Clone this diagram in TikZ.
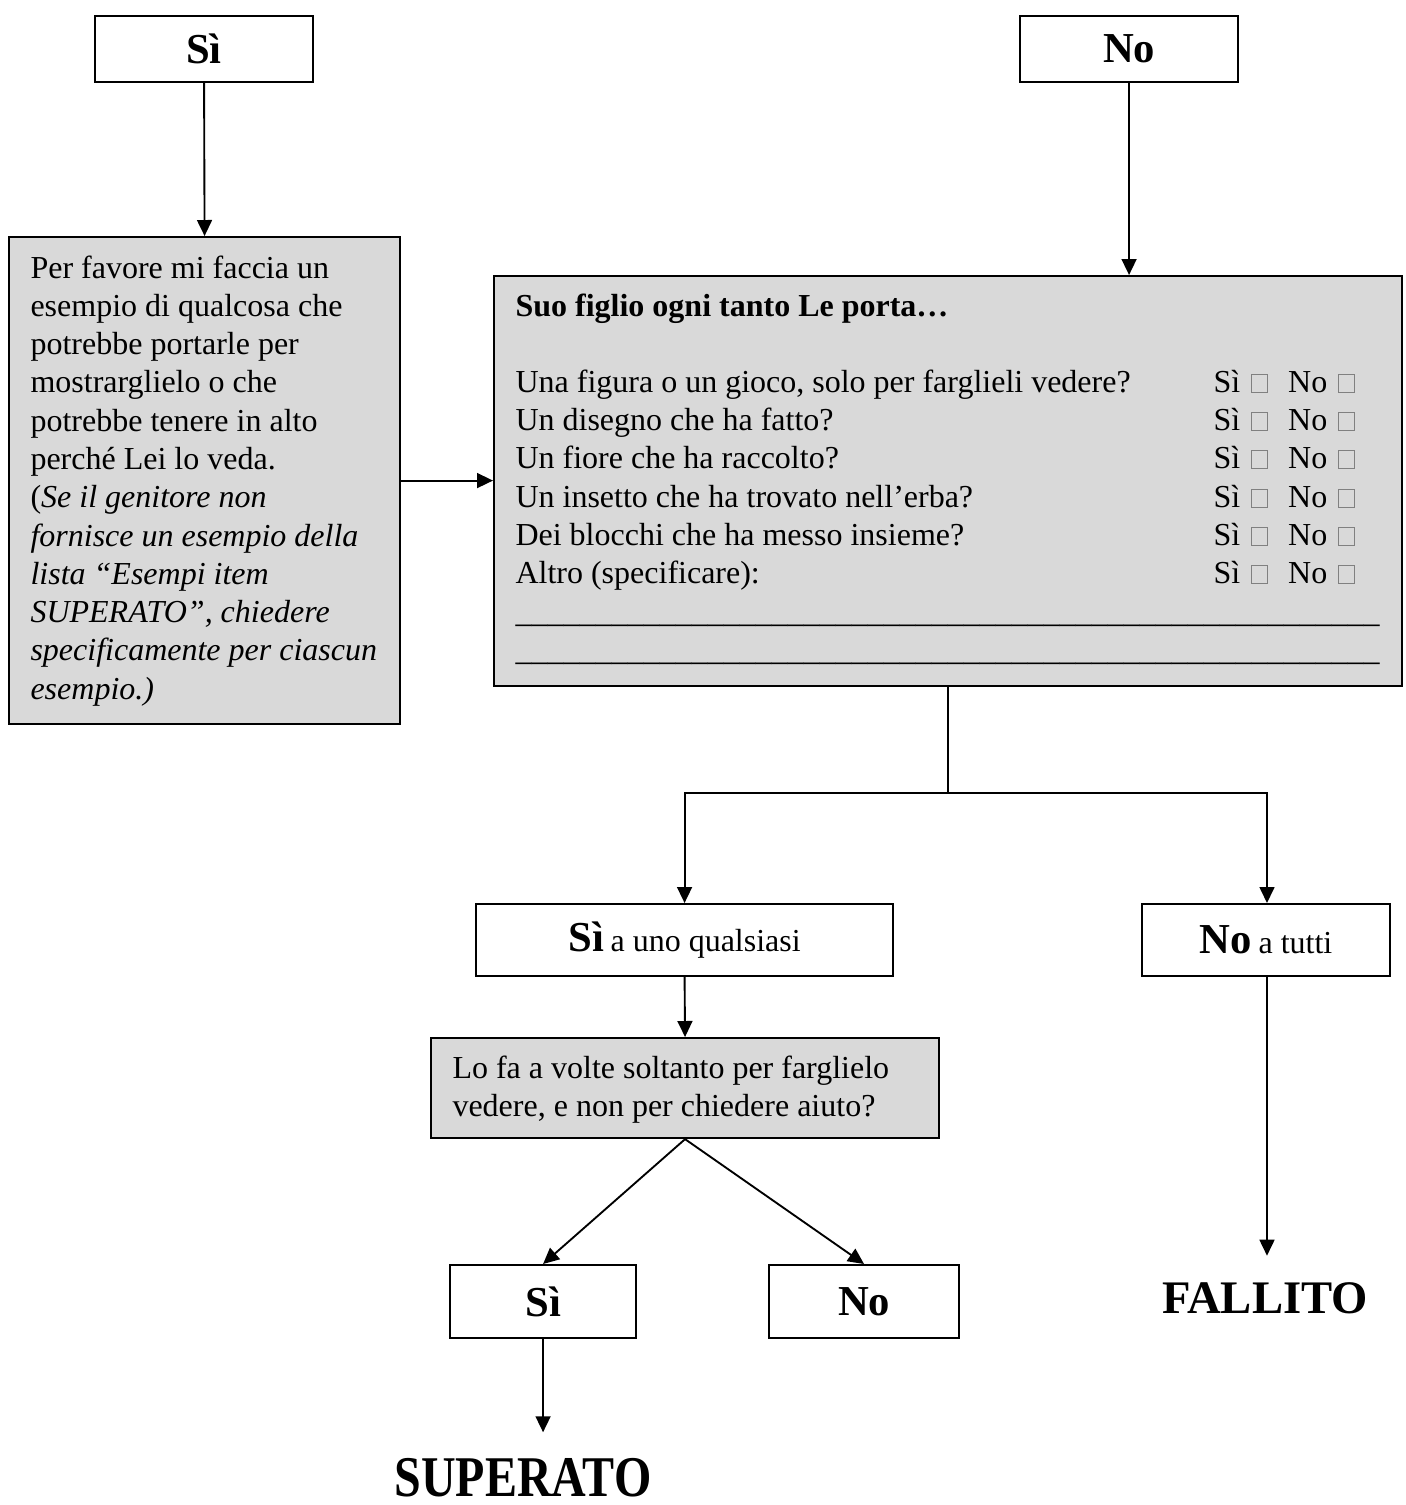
\documentclass[tikz,border=0pt]{standalone}
\usepackage{fontspec}
\setmainfont{Liberation Serif}
\usepackage{graphicx}
\usetikzlibrary{arrows.meta}

\definecolor{boxfill}{HTML}{D9D9D9}
\definecolor{tickgray}{HTML}{808080}

% one drawing unit = 0.375pt
\newcommand\pxu{0.375pt}
% empty answer box
\newcommand\chk{\textcolor{tickgray}{\setlength{\fboxsep}{0pt}\setlength{\fboxrule}{0.4pt}\fbox{\rule{0pt}{6.3pt}\hspace{5.6pt}}}}
\newcommand\sino{Sì\hspace{4.1pt}\chk\hspace{7.5pt}No\hspace{4.1pt}\chk}
\newcommand\ninescores{\_\_\_\_\_\_\_\_\_}
\newcommand\blankline{\ninescores\ninescores\ninescores\ninescores\ninescores\ninescores}
% natural word spaces inside wrapped nodes
\newcommand\plainspaces{\spaceskip=0pt\xspaceskip=0pt\relax}

\tikzset{
  frame/.style={draw, line width=0.8pt, inner sep=0pt, anchor=north west, align=center},
  grayframe/.style={frame, fill=boxfill},
  arr/.style={-{Triangle[length=6pt,width=5.6pt]}, line width=0.7pt},
  conn/.style={line width=0.7pt},
  txt/.style={inner sep=0pt, anchor=base west, font=\fontsize{12pt}{14.36pt}\selectfont},
  big/.style={font=\bfseries\fontsize{16pt}{19pt}\selectfont},
  result/.style={inner xsep=0pt, anchor=base, font=\bfseries\fontsize{17.5pt}{21pt}\selectfont}
}

\begin{document}
\begin{tikzpicture}[x=0.375pt, y=-0.375pt]
\useasboundingbox (0,0) rectangle (1406,1505);

% top answers
\node[frame, minimum width=218*\pxu, minimum height=66*\pxu, big] (sitop) at (94,15) {Sì};
\node[frame, minimum width=218*\pxu, minimum height=66*\pxu, big] (notop) at (1019,15) {No};

% left prompt box: one paragraph per printed line
\node[grayframe, minimum width=391*\pxu, minimum height=487*\pxu] (lbox) at (8,236) {};
\node[txt, text width=140pt] (ltext) at (30,278)
  {\plainspaces
   Per favore mi faccia un\par
   esempio di qualcosa che\par
   potrebbe portarle per\par
   mostrarglielo o che\par
   potrebbe tenere in alto\par
   perché Lei lo veda.\par
   ({\itshape Se il genitore non\par
   fornisce un esempio della\par
   lista “Esempi item\par
   SUPERATO”, chiedere\par
   specificamente per ciascun\par
   esempio.)}\par};

% right question box
\node[grayframe, minimum width=908*\pxu, minimum height=410*\pxu] (rbox) at (493,275) {};
\node[txt, font=\bfseries\fontsize{12pt}{14.36pt}\selectfont] (title) at (515,316) {Suo figlio ogni tanto Le porta…};
\node[txt] (q1) at (515,392) {Una figura o un gioco, solo per farglieli vedere?};
\node[txt] (q2) at (515,430) {Un disegno che ha fatto?};
\node[txt] (q3) at (515,468) {Un fiore che ha raccolto?};
\node[txt] (q4) at (515,507) {Un insetto che ha trovato nell’erba?};
\node[txt] (q5) at (515,545) {Dei blocchi che ha messo insieme?};
\node[txt] (q6) at (515,583) {Altro (specificare):};
\node[txt] (a1) at (1213,392) {\sino};
\node[txt] (a2) at (1213,430) {\sino};
\node[txt] (a3) at (1213,468) {\sino};
\node[txt] (a4) at (1213,507) {\sino};
\node[txt] (a5) at (1213,545) {\sino};
\node[txt] (a6) at (1213,583) {\sino};
\node[txt] (u1) at (515,622) {\blankline};
\node[txt] (u2) at (515,660) {\blankline};

% outcome boxes
\node[frame, minimum width=417*\pxu, minimum height=72*\pxu] (siuno) at (475,903)
  {{\bfseries\fontsize{16pt}{19pt}\selectfont Sì} {\fontsize{12pt}{14pt}\selectfont a uno qualsiasi}};
\node[frame, minimum width=248*\pxu, minimum height=72*\pxu] (notutti) at (1141,903)
  {{\bfseries\fontsize{16pt}{19pt}\selectfont No} {\fontsize{12pt}{14pt}\selectfont a tutti}};

\node[grayframe, minimum width=508*\pxu, minimum height=100*\pxu] (lofa) at (430,1037) {};
\node[txt, text width=180pt] (lofatext) at (452,1078)
  {\plainspaces Lo fa a volte soltanto per farglielo\par vedere, e non per chiedere aiuto?\par};

\node[frame, minimum width=186*\pxu, minimum height=73*\pxu, big] (sibox) at (449,1264) {Sì};
\node[frame, minimum width=190*\pxu, minimum height=73*\pxu, big] (nobox) at (768,1264) {No};

\node[result, inner ysep=9.4pt, font=\bfseries\fontsize{18pt}{21pt}\selectfont] (superato) at (523,1496) {\scalebox{1}[1.2]{SUPERATO}};
\node[result, inner ysep=9.7pt] (fallito) at (1265,1313) {FALLITO};

% connectors
\draw[arr] (sitop.south) -- (lbox.north);
\draw[arr] (notop.south) -- (notop.south |- rbox.north);
\draw[arr] (lbox.east) -- (lbox.east -| rbox.west);

\coordinate (split) at (rbox.south |- 0,793);
\draw[conn] (rbox.south) -- (split);
\draw[arr] (split) -| (siuno.north);
\draw[arr] (split) -| (notutti.north -| 1267,0);
\draw[arr] (siuno.south) -- (lofa.north);
\draw[arr] (lofa.south) -- (sibox.north);
\draw[arr] (lofa.south) -- (nobox.north);
\draw[arr] (sibox.south) -- (sibox.south |- superato.north);
\draw[arr] (notutti.south -| 1267,0) -- (1267,0 |- fallito.north);
\end{tikzpicture}
\end{document}
